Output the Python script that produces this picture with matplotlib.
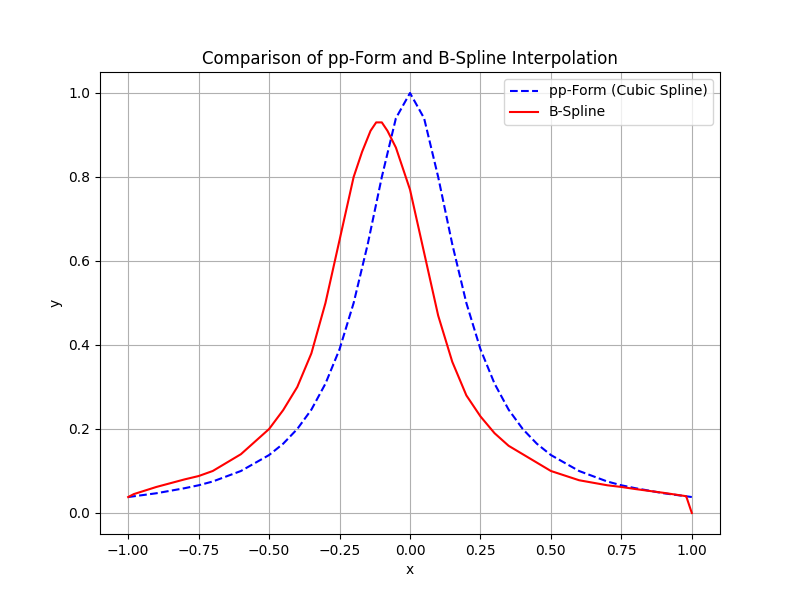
import numpy as np
import matplotlib.pyplot as plt

# values
x_pp = [-1.0, -0.9, -0.8, -0.75, -0.7, -0.6, -0.5, -0.45, -0.4, -0.35, -0.3, -0.25, -0.2, -0.15,
        -0.1, -0.05, 0.0, 0.05, 0.1, 0.15, 0.2, 0.25, 0.3, 0.35, 0.4, 0.45, 0.5, 0.6, 0.7,
        0.75, 0.8, 0.9, 1.0]
y_pp = [0.038, 0.047, 0.059, 0.066, 0.075, 0.10, 0.138, 0.165, 0.20, 0.246, 0.308, 0.39, 0.50, 0.64,
        0.80, 0.94, 1.0, 0.94, 0.80, 0.64, 0.50, 0.39, 0.308, 0.246, 0.20, 0.165, 0.138, 0.10, 0.075,
        0.066, 0.059, 0.047, 0.038]

x_bs = [-1.0, -0.98, -0.9, -0.8, -0.75, -0.7, -0.6, -0.5, -0.45, -0.4, -0.35, -0.3, -0.25, -0.2,
        -0.17, -0.14, -0.12, -0.1, -0.08, -0.05, 0.0, 0.05, 0.1, 0.15, 0.2, 0.25, 0.3, 0.35,
        0.4, 0.5, 0.6, 0.7, 0.75, 0.8, 0.9, 0.98, 1.0]
y_bs = [0.038, 0.045, 0.062, 0.08, 0.088, 0.10, 0.14, 0.20, 0.245, 0.30, 0.38, 0.50, 0.65, 0.80,
        0.86, 0.91, 0.93, 0.93, 0.91, 0.87, 0.77, 0.62, 0.47, 0.36, 0.28, 0.23, 0.19, 0.16,
        0.14, 0.10, 0.078, 0.066, 0.062, 0.057, 0.048, 0.04, 0.0]

fig = plt.figure(figsize=(8, 6), dpi=100)
plt.plot(x_pp, y_pp, 'b--', label='pp-Form (Cubic Spline)')
plt.plot(x_bs, y_bs, 'r-', label='B-Spline')
plt.title('Comparison of pp-Form and B-Spline Interpolation')
plt.xlabel('x')
plt.ylabel('y')
plt.legend()
plt.grid(True)
plt.savefig('out.png')
